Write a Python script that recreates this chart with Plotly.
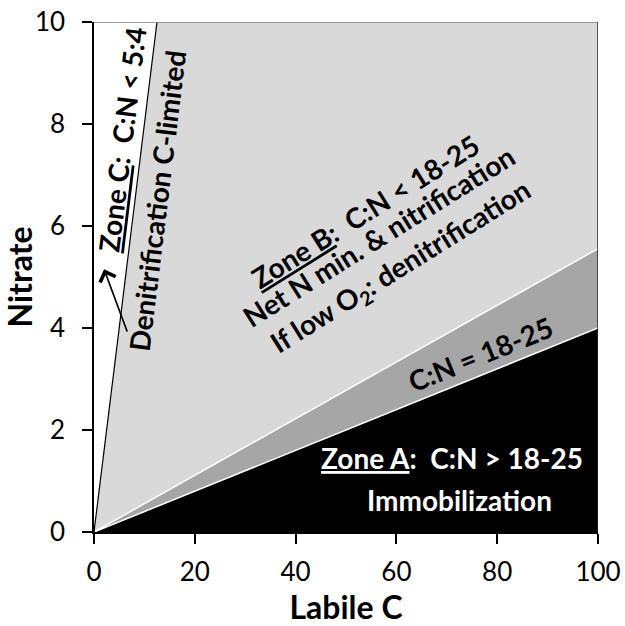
import plotly.graph_objects as go

# Axis extents
labile_c_range = [0, 100]
nitrate_range = [0, 10]
x_ticks = [0, 20, 40, 60, 80, 100]
y_ticks = [0, 2, 4, 6, 8, 10]

# C:N ratios bounding the zones
cn_zone_c = 1.25          # 5:4 -> denitrification C-limited
cn_band = [18, 25]        # transition band between zones A and B

x0, x1 = labile_c_range
y0, y1 = nitrate_range
y_band_hi = x1 / cn_band[0]
y_band_lo = x1 / cn_band[1]
x_zone_c_top = y1 * cn_zone_c

FONT = "Lato"
LIGHT = "#d9d9d9"
MID = "#a6a6a6"

fig = go.Figure()

# Zone B (light grey) between the 5:4 line and the 18 line
fig.add_trace(go.Scatter(
    x=[x0, x_zone_c_top, x1, x1, x0], y=[y0, y1, y1, y_band_hi, y0],
    fill="toself", fillcolor=LIGHT, mode="lines", line=dict(width=0),
    hoverinfo="skip", showlegend=False))
# Transition band C:N = 18-25
fig.add_trace(go.Scatter(
    x=[x0, x1, x1, x0], y=[y0, y_band_hi, y_band_lo, y0],
    fill="toself", fillcolor=MID, mode="lines", line=dict(width=0),
    hoverinfo="skip", showlegend=False))
# Zone A (black)
fig.add_trace(go.Scatter(
    x=[x0, x1, x1, x0], y=[y0, y_band_lo, y0, y0],
    fill="toself", fillcolor="black", mode="lines", line=dict(width=0),
    hoverinfo="skip", showlegend=False))
# White edges of the band
for r in cn_band:
    fig.add_trace(go.Scatter(
        x=[x0, x1], y=[y0, x1 / r], mode="lines",
        line=dict(color="white", width=1.5),
        hoverinfo="skip", showlegend=False))
# Zone C boundary
fig.add_trace(go.Scatter(
    x=[x0, x_zone_c_top], y=[y0, y1], mode="lines",
    line=dict(color="black", width=1.2),
    hoverinfo="skip", showlegend=False))

# Frame: grey top edge, dark right edge
fig.add_shape(type="line", xref="x", yref="y", x0=x0, x1=x1, y0=y1, y1=y1,
              line=dict(color="#7f7f7f", width=1.5))
fig.add_shape(type="line", xref="x", yref="y", x0=x1, x1=x1, y0=y0, y1=y1,
              line=dict(color="#262626", width=1.5))

NB = "\u00a0"


def note(text, x, y, angle, color="black", size=28):
    fig.add_annotation(x=x, y=y, xref="x", yref="y", text=text,
                       textangle=angle, showarrow=False,
                       xanchor="center", yanchor="middle",
                       font=dict(family=FONT, size=size, color=color, weight="bold"))


# Zone C
note(f"<u>Zone C</u>:{NB}{NB}C:N < 5:4", 5.6, 7.7, -83)
note("Denitrification C-limited", 12.4, 6.5, -83)
fig.add_annotation(x=2.0, y=5.15, ax=6.7, ay=3.9, xref="x", yref="y",
                   axref="x", ayref="y", text="", showarrow=True,
                   arrowhead=4, arrowsize=2.0, arrowwidth=1.6, arrowcolor="black")

# Zone B
note(f"<u>Zone B</u>:{NB}{NB}C:N < 18-25", 53.8, 6.3, -32)
note("Net N min. & nitrification", 56.5, 5.8, -32)
note("If low O<sub>2</sub>: denitrification", 61.0, 5.2, -32)

# Band label
note("C:N = 18-25", 76.6, 3.5, -22)

# Zone A
note(f"<u>Zone A</u>:{NB}{NB}C:N > 18-25", 71.0, 1.45, 0, color="white")
note("Immobilization", 72.6, 0.63, 0, color="white")

axis_common = dict(
    showgrid=False, zeroline=False, showline=True, linecolor="black",
    linewidth=1.5, ticks="outside", ticklen=10, tickwidth=1.5,
    tickcolor="black", tickfont=dict(family=FONT, size=26, color="black"),
    automargin=False,
)

fig.update_layout(
    width=625, height=626,
    margin=dict(l=94, r=27, t=22, b=94),
    paper_bgcolor="white", plot_bgcolor="white",
    xaxis=dict(range=labile_c_range, tickvals=x_ticks, ticklabelstandoff=6,
               title=dict(text="<b>Labile C</b>", standoff=10,
                          font=dict(family=FONT, size=32, color="black")),
               **axis_common),
    yaxis=dict(range=nitrate_range, tickvals=y_ticks, ticklabelstandoff=12,
               title=dict(text="<b>Nitrate</b>", standoff=8,
                          font=dict(family=FONT, size=32, color="black")),
               **axis_common),
)

fig.write_html("out.html")
